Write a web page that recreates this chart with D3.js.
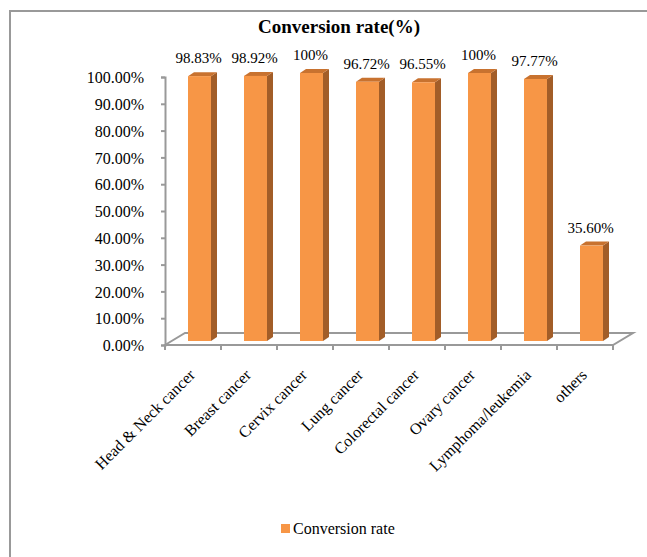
<!DOCTYPE html>
<html>
<head>
<meta charset="utf-8">
<script src="https://cdn.jsdelivr.net/npm/d3@7"></script>
<style>
  body { margin: 0; background: #fff; }
  text { font-family: "Liberation Serif", "Times New Roman", serif; fill: #000; }
</style>
</head>
<body>
<div id="chart"></div>
<script>
// data
const categories = ["Head & Neck cancer", "Breast cancer", "Cervix cancer", "Lung cancer",
    "Colorectal cancer", "Ovary cancer", "Lymphoma/leukemia", "others"];
const rates = [98.83, 98.92, 100, 96.72, 96.55, 100, 97.77, 35.60];
const rateLabels = ["98.83%", "98.92%", "100%", "96.72%", "96.55%", "100%", "97.77%", "35.60%"];
const yTicks = [0, 10, 20, 30, 40, 50, 60, 70, 80, 90, 100];

const W = 647, H = 557;
const serif = "Liberation Serif";
// 3d floor depth and bar depth
const depth = {dx: 20, dy: -12};
const barShift = {dx: 7, dy: -4};
const side = {dx: 6, dy: -4};

const svg = d3.select("#chart")
    .append("svg")
    .attr("width", W)
    .attr("height", H)
    .attr("font-family", serif);

// outer frame (top and left edges only are visible)
svg.append("path")
    .attr("d", `M10,${H} L10,11 L${W},11`)
    .attr("fill", "none")
    .attr("stroke", "#999")
    .attr("stroke-width", 2);

/* title */
svg.append("text")
    .attr("x", 339)
    .attr("y", 33)
    .attr("text-anchor", "middle")
    .attr("font-family", serif)
    .attr("font-size", "19px")
    .attr("font-weight", "bold")
    .text("Conversion rate(%)");

const x = d3.scaleBand().domain(categories).range([165, 613]);
const y = d3.scaleLinear().domain([0, 100]).range([345, 77]);

// floor
const x0 = x.range()[0], x1 = x.range()[1], yb = y(0);
svg.append("path")
    .attr("d", `M${x0},${yb} L${x0 + depth.dx},${yb + depth.dy} L${x1 + depth.dx},${yb + depth.dy} L${x1},${yb} Z`)
    .attr("fill", "#fff")
    .attr("stroke", "#999")
    .attr("stroke-width", 2);

// y axis
const yAxis = svg.append("g")
    .attr("transform", `translate(${x0},0)`)
    .call(d3.axisLeft(y).tickValues(yTicks).tickSize(4).tickPadding(17)
        .tickFormat(d => d.toFixed(2) + "%"));
yAxis.attr("font-family", serif);
yAxis.select(".domain").attr("stroke", "#999").attr("stroke-width", 2);
yAxis.selectAll(".tick line").attr("stroke", "#999").attr("stroke-width", 2);
yAxis.selectAll(".tick text")
    .attr("font-size", "16px")
    .attr("font-family", serif)
    .attr("fill", "#000")
    .attr("dy", "0.35em");

// x axis ticks along front edge of floor
const xAxis = svg.append("g")
    .attr("transform", `translate(0,${yb})`)
    .call(d3.axisBottom(x).tickSize(0).tickFormat(""));
xAxis.select(".domain").remove();
xAxis.selectAll(".edge")
    .data(d3.range(categories.length + 1))
    .enter()
    .append("line")
    .attr("x1", i => x0 + i * x.step())
    .attr("x2", i => x0 + i * x.step())
    .attr("y1", 0)
    .attr("y2", 5)
    .attr("stroke", "#999")
    .attr("stroke-width", 2);

// category labels
svg.selectAll(".cat")
    .data(categories)
    .enter()
    .append("text")
    .attr("class", "cat")
    .attr("text-anchor", "end")
    .attr("font-family", serif)
    .attr("font-size", "16px")
    .attr("transform", d => `translate(${x(d) + x.bandwidth() / 2 + 3},376) rotate(-45)`)
    .text(d => d);

// bars
const bw = 23;
const bars = svg.selectAll(".bar")
    .data(categories.map((c, i) => ({c: c, v: rates[i], label: rateLabels[i]})))
    .enter()
    .append("g")
    .attr("class", "bar");

function fx(d) { return x(d.c) + 16 + barShift.dx; }
function barTop(d) { return y(d.v) + barShift.dy; }
const base = yb + barShift.dy;

bars.append("path") // side
    .attr("d", d => `M${fx(d) + bw},${base} L${fx(d) + bw + side.dx},${base + side.dy} L${fx(d) + bw + side.dx},${barTop(d) + side.dy} L${fx(d) + bw},${barTop(d)} Z`)
    .attr("fill", "#a25d28");

bars.append("path") // top
    .attr("d", d => `M${fx(d)},${barTop(d)} L${fx(d) + side.dx},${barTop(d) + side.dy} L${fx(d) + bw + side.dx},${barTop(d) + side.dy} L${fx(d) + bw},${barTop(d)} Z`)
    .attr("fill", "#c8722f");

bars.append("rect") // front
    .attr("x", d => fx(d))
    .attr("y", d => barTop(d))
    .attr("width", bw)
    .attr("height", d => base - barTop(d))
    .attr("fill", "#f79646");

bars.append("text")
    .attr("x", d => fx(d) + bw / 2 - 1)
    .attr("y", d => barTop(d) - 13)
    .attr("text-anchor", "middle")
    .attr("font-family", serif)
    .attr("font-size", "15px")
    .text(d => d.label);

// legend
svg.append("rect")
    .attr("x", 281)
    .attr("y", 524)
    .attr("width", 9)
    .attr("height", 9)
    .attr("fill", "#f79646");
svg.append("text")
    .attr("x", 293)
    .attr("y", 534)
    .attr("font-family", serif)
    .attr("font-size", "16px")
    .text("Conversion rate");
</script>
</body>
</html>
